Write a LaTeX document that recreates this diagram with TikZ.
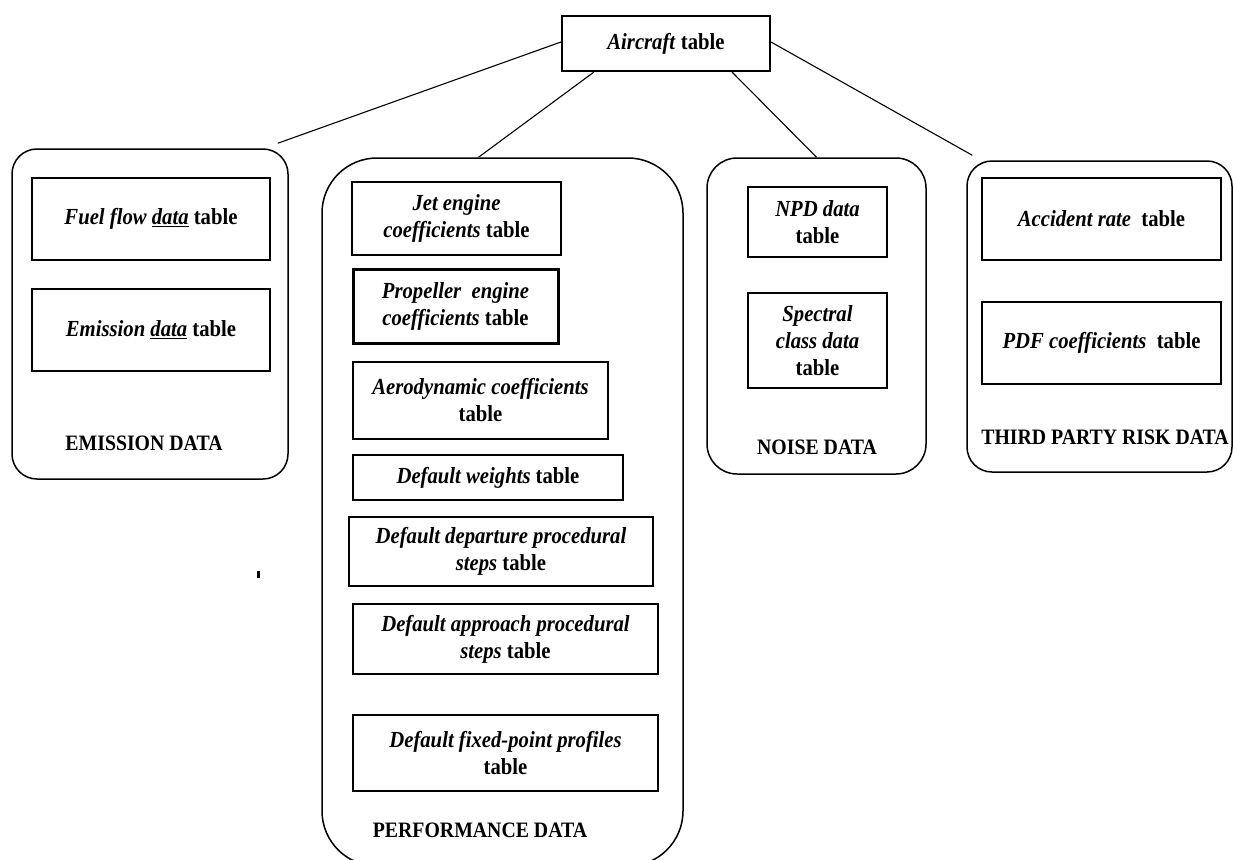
\documentclass[tikz,border=0pt]{standalone}
\usepackage{fontspec}
\setmainfont{Liberation Serif}[FakeStretch=0.9]
\usetikzlibrary{calc}
\newcommand{\fsz}{\fontsize{22}{27}\selectfont}
\newcommand{\tsz}{\fontsize{23}{27}\selectfont}
\tikzset{
  tbl/.style={draw, line width=1.5pt, align=center, inner sep=0pt, font=\tsz\bfseries},
  thk/.style={line width=2.6pt},
  grp/.style={draw, line width=1.5pt, inner sep=0pt},
  lbl/.style={font=\fsz\bfseries, inner sep=0pt},
  link/.style={line width=1.1pt},
}
\begin{document}
\begin{tikzpicture}[x=1pt,y=-1pt]
\useasboundingbox (0,0) rectangle (1233,859);
% groups
\node[grp, rounded corners=25pt, minimum width=276pt, minimum height=330pt] (emis) at (150,314) {};
\node[grp, rounded corners=55pt, minimum width=361pt, minimum height=708pt] (perf) at (502.5,512) {};
\node[grp, rounded corners=30pt, minimum width=219pt, minimum height=316pt] (noise) at (816.5,316) {};
\node[grp, rounded corners=25pt, minimum width=265pt, minimum height=311pt] (tp) at (1099.5,316.5) {};
% top table
\node[tbl, line width=2pt, minimum width=208pt, minimum height=55pt] (air) at (666,43.5) {\textit{Aircraft} table};
% emission
\node[tbl, line width=1.3pt, minimum width=238pt, minimum height=82pt] (fuel) at (151,219) {\textit{Fuel flow \underline{data}} table};
\node[tbl, line width=1.3pt, minimum width=238pt, minimum height=82pt] (emd) at (151,330) {\textit{Emission \underline{data}} table};
\node[lbl] (emisl) at (144,443) {EMISSION DATA};
% performance
\node[tbl, thk, minimum width=209pt, minimum height=73pt] (jet) at (456.5,218.5) {\textit{Jet engine}\\\textit{coefficients} table};
\node[tbl, line width=3pt, minimum width=205pt, minimum height=74pt] (prop) at (455.5,306) {\textit{Propeller\ \ engine}\\\textit{coefficients} table};
\node[tbl, line width=2pt, minimum width=255pt, minimum height=77pt] (aero) at (480.5,400.5) {\textit{Aerodynamic coefficients}\\table};
\node[tbl, line width=2pt, minimum width=270pt, minimum height=45pt] (wts) at (488,477.5) {\textit{Default weights} table};
\node[tbl, line width=2pt, minimum width=304pt, minimum height=69pt] (dep) at (501,551.5) {\textit{Default departure procedural}\\\textit{steps} table};
\node[tbl, line width=1.6pt, minimum width=305pt, minimum height=70pt] (app) at (505.5,639) {\textit{Default approach procedural}\\\textit{steps} table};
\node[tbl, line width=2pt, minimum width=305pt, minimum height=76pt] (fix) at (505.5,753) {\textit{Default fixed-point profiles}\\table};
\node[lbl] (perfl) at (480,830) {PERFORMANCE DATA};
% noise
\node[tbl, line width=1.6pt, minimum width=139pt, minimum height=70pt] (npd) at (817.5,222) {\textit{NPD data}\\table};
\node[tbl, thk, minimum width=139pt, minimum height=95pt] (spec) at (817.5,340.5) {\textit{Spectral}\\\textit{class data}\\table};
\node[lbl] (noisel) at (817,447) {NOISE DATA};
% third party risk
\node[tbl, line width=1.3pt, minimum width=239pt, minimum height=82pt] (acc) at (1101.5,219) {\textit{Accident rate}\ \ table};
\node[tbl, line width=1.3pt, minimum width=239pt, minimum height=82pt] (pdf) at (1101.5,343) {\textit{PDF coefficients}\ \ table};
\node[lbl] (tpl) at (1105,437) {THIRD PARTY RISK DATA};
% connectors
\draw[link] ([yshift=1.5pt]air.west) -- ([xshift=-11pt,yshift=5pt]emis.north east);
\draw[link] ([xshift=33pt]air.south west) -- ([xshift=-24pt]perf.north);
\draw[link] ([xshift=-39pt]air.south east) -- (noise.north);
\draw[link] ([yshift=1.5pt]air.east) -- ([xshift=6pt,yshift=5pt]tp.north west);
% stray mark
\fill (256.5,571) rectangle (259.5,578);
\end{tikzpicture}
\end{document}
